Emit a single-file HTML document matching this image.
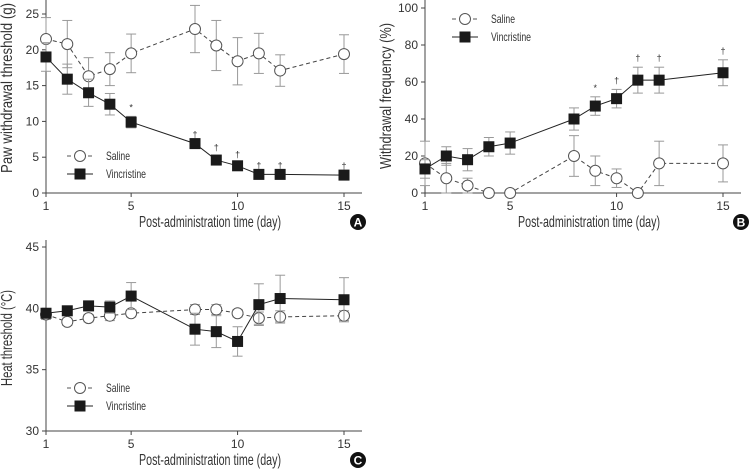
<!DOCTYPE html>
<html><head><meta charset="utf-8"><style>
body{margin:0;background:#fff}
svg{display:block;font-family:"Liberation Sans Narrow","Liberation Sans",sans-serif}
</style></head><body>
<svg id="chart" width="750" height="470" viewBox="0 0 750 470" xmlns="http://www.w3.org/2000/svg"></svg>
<script>
const days = [1,2,3,4,5,8,9,10,11,12,15];
const xTicks = [1,5,10,15];
const aSaline = [21.5,20.8,16.3,17.3,19.5,22.9,20.6,18.4,19.5,17.1,19.4];
const aSalineErr = [3,3.3,2.6,2.3,2.7,3.3,3.5,3.3,2.8,2.2,2.7];
const aVinc = [19,15.9,14,12.4,9.9,6.9,4.6,3.8,2.6,2.6,2.5];
const aVincErr = [2,2.1,1.9,1.5,0.8,0,0.5,0.3,0,0,0];
const aMarks = ["","","","","*","†","†","†","†","†","†"];
const aTicks = [0,5,10,15,20,25];
const bSaline = [16,8,4,0,0,20,12,8,0,16,16];
const bSalineErr = [12,8,4,0,0,11,8,5,0,12,10];
const bVinc = [13,20,18,25,27,40,47,51,61,61,65];
const bVincErr = [5,5,6,5,6,6,5,5,7,7,7];
const bMarks = ["","","","","","","*","†","†","†","†"];
const bTicks = [0,20,40,60,80,100];
const cSaline = [39.5,38.9,39.2,39.4,39.6,39.9,39.9,39.6,39.2,39.3,39.4];
const cSalineErr = [0.4,0.3,0.3,0.4,0.3,0.4,0.4,0.3,0.5,0.5,0.4];
const cVinc = [39.6,39.8,40.2,40.1,41,38.3,38.1,37.3,40.3,40.8,40.7];
const cVincErr = [0.3,0.3,0.4,0.5,1.1,1.3,1.3,1.2,1.7,1.9,1.8];
const cTicks = [30,35,40,45];

const svg=document.getElementById('chart');
const NS='http://www.w3.org/2000/svg';
function el(tag,attrs,parent){const e=document.createElementNS(NS,tag);for(const k in attrs)e.setAttribute(k,attrs[k]);(parent||svg).appendChild(e);return e;}
function txt(x,y,s,size,anchor,parent,weight,len){const t=el('text',{x:x,y:y,'font-size':size,'text-anchor':anchor||'middle',fill:'#333','font-weight':weight||'normal'},parent);if(len){t.setAttribute('textLength',len);t.setAttribute('lengthAdjust','spacingAndGlyphs');}t.textContent=s;return t;}

function panel(cfg){
  const g=el('g',{});
  
  
  const X=d=>cfg.x0+(d-1)*(cfg.x1-cfg.x0)/14;
  const Y=v=>cfg.yb+(v-cfg.ymin)*(cfg.yt-cfg.yb)/(cfg.ymax-cfg.ymin);
  const ax=el('path',{d:`M${cfg.x0} ${cfg.ytop}V${cfg.yb}H${cfg.xr}`,stroke:'#444',fill:'none','stroke-width':1},g);
  
  
  cfg.yTicks.forEach(v=>{el('line',{x1:cfg.x0-4,x2:cfg.x0,y1:Y(v),y2:Y(v),stroke:'#444'},g);
    const t=txt(cfg.x0-7,Y(v)+4,String(v),12,'end',g);
    
    });
  xTicks.forEach(d=>{el('line',{x1:X(d),x2:X(d),y1:cfg.yb,y2:cfg.yb+4,stroke:'#444'},g);
    const t=txt(X(d),cfg.yb+17,String(d),12,'middle',g);
    
    });
  const xt=txt((cfg.x0+cfg.xr)/2+6,cfg.yb+34,'Post-administration time (day)',16,'middle',g,'normal',142);
  
  
  const yt=txt(0,0,cfg.ytitle,16,'middle',g,'normal',cfg.ylen);
  yt.setAttribute('transform',`translate(${cfg.x0-34},${cfg.ymid}) rotate(-90)`);
  
  
  function series(vals,errs,filled,name){
    const sg=el('g',{},g);
    
    
    days.forEach((d,i)=>{if(errs[i]>0){
      el('line',{x1:X(d),x2:X(d),y1:Y(vals[i]-errs[i]),y2:Y(vals[i]+errs[i]),stroke:'#999'},sg);
      [vals[i]-errs[i],vals[i]+errs[i]].forEach(v=>el('line',{x1:X(d)-5,x2:X(d)+5,y1:Y(v),y2:Y(v),stroke:'#999'},sg));}});
    el('polyline',{points:days.map((d,i)=>X(d)+','+Y(vals[i])).join(' '),fill:'none',stroke:filled?'#222':'#444','stroke-dasharray':filled?'none':'4,3'},sg);
    days.forEach((d,i)=>{
      const m=filled?el('rect',{x:X(d)-5.5,y:Y(vals[i])-5.5,width:11,height:11,fill:'#1a1a1a'},sg)
        :el('circle',{cx:X(d),cy:Y(vals[i]),r:5.5,fill:'#fff',stroke:'#555'},sg);
      
      });
  }
  series(cfg.sal,cfg.salE,false,'saline-series');
  series(cfg.vin,cfg.vinE,true,'vincristine-series');
  if(cfg.marks){days.forEach((d,i)=>{if(cfg.marks[i]){
    const top=Math.max(cfg.vin[i]+cfg.vinE[i],0);
    const t=txt(X(d),Y(top)-6,cfg.marks[i],9,'middle',g);
    
    }});}
  const lg=el('g',{},g);
  
  
  const lx=cfg.lx,ly=cfg.ly;
  el('line',{x1:lx-13,x2:lx+13,y1:ly,y2:ly,stroke:'#555','stroke-dasharray':'4,3'},lg);
  el('circle',{cx:lx,cy:ly,r:5.5,fill:'#fff',stroke:'#555'},lg);
  txt(lx+26,ly+4,'Saline',12,'start',lg,'normal',24);
  el('line',{x1:lx-13,x2:lx+13,y1:ly+18,y2:ly+18,stroke:'#222'},lg);
  el('rect',{x:lx-5.5,y:ly+12.5,width:11,height:11,fill:'#1a1a1a'},lg);
  txt(lx+26,ly+22,'Vincristine',12,'start',lg,'normal',40);
  const b=el('g',{},g);
  
  
  el('circle',{cx:cfg.labx,cy:cfg.laby,r:8,fill:'#111'},b);
  const bl=txt(cfg.labx,cfg.laby+4.5,cfg.label,12,'middle',b,'bold');bl.setAttribute('fill','#fff');
}
panel({name:'panel-a',x0:46,x1:344,xr:362,yb:193,yt:14,ytop:0,ymin:0,ymax:25,yTicks:aTicks,ytitle:'Paw withdrawal threshold (g)',ylen:170,ymid:88,
  sal:aSaline,salE:aSalineErr,vin:aVinc,vinE:aVincErr,marks:aMarks,lx:80,ly:156,labx:358,laby:222,label:'A'});
panel({name:'panel-b',x0:425,x1:723,xr:741,yb:193,yt:8,ytop:0,ymin:0,ymax:100,yTicks:bTicks,ytitle:'Withdrawal frequency (%)',ylen:146,ymid:96,
  sal:bSaline,salE:bSalineErr,vin:bVinc,vinE:bVincErr,marks:bMarks,lx:465,ly:19,labx:741,laby:222,label:'B'});
panel({name:'panel-c',x0:46,x1:344,xr:362,yb:431,yt:247,ytop:240,ymin:30,ymax:45,yTicks:cTicks,ytitle:'Heat threshold (°C)',ylen:96,ymid:338,
  sal:cSaline,salE:cSalineErr,vin:cVinc,vinE:cVincErr,marks:null,lx:80,ly:388,labx:358,laby:460,label:'C'});
</script>
</body></html>
